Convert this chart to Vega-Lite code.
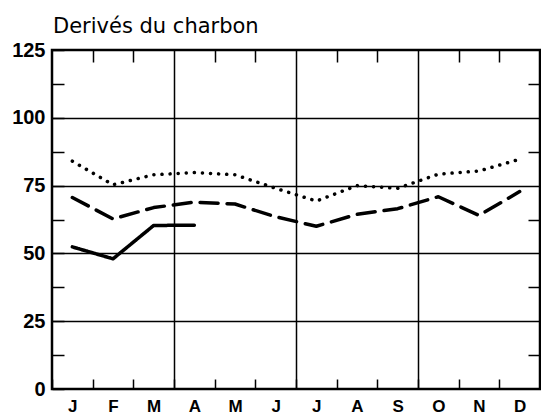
{
  "$schema": "https://vega.github.io/schema/vega-lite/v6.json",
  "width": 488,
  "height": 339,
  "autosize": {"type": "none"},
  "padding": {"left": 52, "top": 50, "right": 1, "bottom": 25},
  "background": "white",
  "title": {"text": "Derivés du charbon", "anchor": "start", "frame": "group", "font": "DejaVu Sans", "fontSize": 21, "fontWeight": "normal", "color": "black", "offset": -14, "baseline": "alphabetic", "dx": 1},
  "config": {"view": {"stroke": "black", "strokeWidth": 2.5}},
  "data": {"values": [
    {"mois": 1, "serie": "a", "v": 84}, {"mois": 2, "serie": "a", "v": 75.3}, {"mois": 3, "serie": "a", "v": 79}, {"mois": 4, "serie": "a", "v": 79.8}, {"mois": 5, "serie": "a", "v": 79}, {"mois": 6, "serie": "a", "v": 74}, {"mois": 7, "serie": "a", "v": 69.3}, {"mois": 8, "serie": "a", "v": 75}, {"mois": 9, "serie": "a", "v": 74}, {"mois": 10, "serie": "a", "v": 79.2}, {"mois": 11, "serie": "a", "v": 80.4}, {"mois": 12, "serie": "a", "v": 84.7},
    {"mois": 1, "serie": "b", "v": 70.6}, {"mois": 2, "serie": "b", "v": 62.7}, {"mois": 3, "serie": "b", "v": 66.9}, {"mois": 4, "serie": "b", "v": 68.9}, {"mois": 5, "serie": "b", "v": 68.2}, {"mois": 6, "serie": "b", "v": 63.5}, {"mois": 7, "serie": "b", "v": 60}, {"mois": 8, "serie": "b", "v": 64.4}, {"mois": 9, "serie": "b", "v": 66.5}, {"mois": 10, "serie": "b", "v": 70.9}, {"mois": 11, "serie": "b", "v": 64}, {"mois": 12, "serie": "b", "v": 72.8},
    {"mois": 1, "serie": "c", "v": 52.4}, {"mois": 2, "serie": "c", "v": 48}, {"mois": 3, "serie": "c", "v": 60.3}, {"mois": 4, "serie": "c", "v": 60.4}
  ]},
  "layer": [
    {
      "mark": {"type": "line", "strokeWidth": 3.5, "strokeCap": "round", "strokeJoin": "round", "color": "black"},
      "encoding": {
        "x": {"field": "mois", "type": "quantitative", "scale": {"domain": [0.5, 12.5], "nice": false, "zero": false},
          "axis": {"orient": "bottom", "values": [0.5, 1.5, 2.5, 3.5, 4.5, 5.5, 6.5, 7.5, 8.5, 9.5, 10.5, 11.5],
            "labelExpr": "['J','F','M','A','M','J','J','A','S','O','N','D'][floor(datum.value)]",
            "labelOffset": 20.3, "labelFlush": false, "labelOverlap": false, "labelFont": "Liberation Sans", "labelFontSize": 17, "labelFontWeight": "bold", "labelColor": "black", "labelBaseline": "top", "labelPadding": 19,
            "ticks": true, "tickSize": -10, "tickColor": "black", "tickWidth": 1.5, "domain": false,
            "grid": true, "gridColor": "black", "gridWidth": 1.5,
            "gridOpacity": {"condition": {"test": "datum.value == 3.5 || datum.value == 6.5 || datum.value == 9.5", "value": 1}, "value": 0},
            "title": null}},
        "y": {"field": "v", "type": "quantitative", "scale": {"domain": [0, 125], "nice": false},
          "axis": {"orient": "left", "values": [0, 12.5, 25, 37.5, 50, 62.5, 75, 87.5, 100, 112.5, 125],
            "labelExpr": "datum.value % 25 == 0 ? datum.label : ''",
            "labelFlush": false, "labelOverlap": false, "labelFont": "Liberation Sans", "labelFontSize": 20, "labelFontWeight": "bold", "labelColor": "black", "labelPadding": 19, "labelBaseline": "middle",
            "ticks": true, "tickSize": -12, "tickColor": "black", "tickWidth": 1.5, "domain": false,
            "grid": true, "gridColor": "black", "gridWidth": 1.5,
            "gridOpacity": {"condition": {"test": "datum.value == 25 || datum.value == 50 || datum.value == 75 || datum.value == 100", "value": 1}, "value": 0},
            "title": null}},
        "detail": {"field": "serie", "type": "nominal"},
        "strokeDash": {"field": "serie", "type": "nominal", "scale": {"domain": ["a", "b", "c"], "range": [[0.1, 8], [18, 9], [1, 0]]}, "legend": null}
      }
    },
    {
      "mark": {"type": "point", "opacity": 0},
      "encoding": {
        "x": {"field": "mois", "type": "quantitative",
          "axis": {"orient": "top", "values": [1.5, 2.5, 4.5, 5.5, 7.5, 8.5, 10.5, 11.5], "labels": false, "ticks": true, "tickSize": -12, "tickColor": "black", "tickWidth": 1.5, "domain": false, "grid": false, "title": null}},
        "y": {"field": "v", "type": "quantitative",
          "axis": {"orient": "right", "values": [12.5, 37.5, 62.5, 87.5, 112.5], "labels": false, "ticks": true, "tickSize": -12, "tickColor": "black", "tickWidth": 1.5, "domain": false, "grid": false, "title": null}}
      }
    }
  ],
  "resolve": {"axis": {"x": "independent", "y": "independent"}}
}
